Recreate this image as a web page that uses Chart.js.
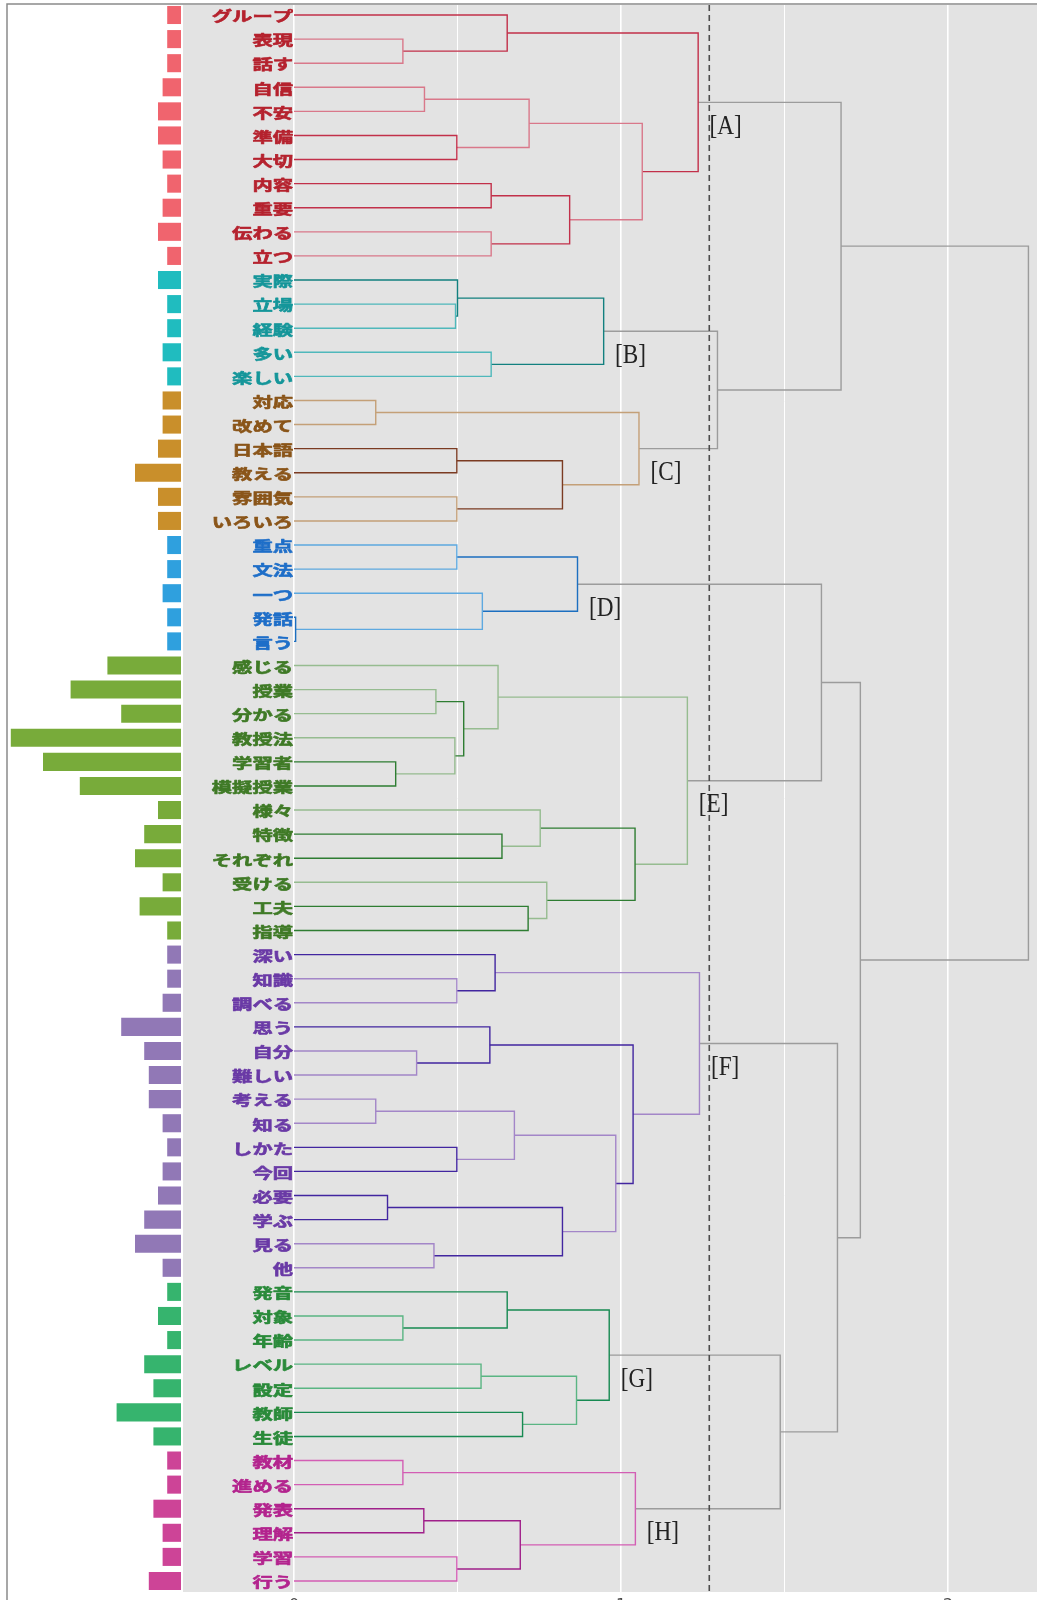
<!DOCTYPE html>
<html lang="ja">
<head>
<meta charset="utf-8">
<script src="https://cdn.jsdelivr.net/npm/chart.js@4/dist/chart.umd.min.js"></script>
<style>
  html, body { margin: 0; padding: 0; background: #fff; overflow: hidden; }
  #wrap { width: 1037px; height: 1616px; }
</style>
</head>
<body>
<div id="wrap"><canvas id="c" width="1037" height="1616"></canvas></div>
<script>
// ---- data -------------------------------------------------------------
// leaf words, top to bottom
const words = [
  'グループ','表現','話す','自信','不安','準備','大切','内容','重要','伝わる','立つ',
  '実際','立場','経験','多い','楽しい',
  '対応','改めて','日本語','教える','雰囲気','いろいろ',
  '重点','文法','一つ','発話','言う',
  '感じる','授業','分かる','教授法','学習者','模擬授業','様々','特徴','それぞれ','受ける','工夫','指導',
  '深い','知識','調べる','思う','自分','難しい','考える','知る','しかた','今回','必要','学ぶ','見る','他',
  '発音','対象','年齢','レベル','設定','教師','生徒',
  '教材','進める','発表','理解','学習','行う'
];

// occurrence counts (bars on the left)
const freq = [
  3,3,3,4,5,5,4,3,4,5,3,
  5,3,3,4,3,
  4,4,5,10,5,5,
  3,3,4,3,3,
  16,24,13,37,30,22,5,8,10,4,9,3,
  3,3,4,13,8,7,7,4,3,4,5,8,10,4,
  3,5,3,8,6,14,6,
  3,3,6,4,4,7
];

// cluster roots
const clusters = ['A','B','C','D','E','F','G','H'];

// merges: [node id, child 1, child 2, height]
const merges = [
  ['a1','表現','話す',0.333], ['a2','グループ','a1',0.652],
  ['a3','自信','不安',0.399], ['a4','準備','大切',0.498], ['a5','a3','a4',0.719],
  ['a6','内容','重要',0.603], ['a7','伝わる','立つ',0.603], ['a8','a6','a7',0.843],
  ['a9','a5','a8',1.065], ['A','a2','a9',1.236],

  ['b1','立場','経験',0.494], ['b2','実際','b1',0.500], ['b3','多い','楽しい',0.603],
  ['B','b2','b3',0.947],

  ['c1','対応','改めて',0.250], ['c2','日本語','教える',0.498], ['c3','雰囲気','いろいろ',0.498],
  ['c4','c2','c3',0.821], ['C','c1','c4',1.055],

  ['d1','重点','文法',0.498], ['d2','発話','言う',0.005], ['d3','一つ','d2',0.576],
  ['D','d1','d3',0.867],

  ['e1','授業','分かる',0.434], ['e2','学習者','模擬授業',0.311], ['e3','教授法','e2',0.492],
  ['e4','e1','e3',0.519], ['e5','感じる','e4',0.624],
  ['e6','特徴','それぞれ',0.636], ['e7','様々','e6',0.753],
  ['e8','工夫','指導',0.716], ['e9','受ける','e8',0.773],
  ['e10','e7','e9',1.043], ['E','e5','e10',1.203],

  ['f1','知識','調べる',0.498], ['f2','深い','f1',0.615],
  ['f3','自分','難しい',0.375], ['f4','思う','f3',0.599],
  ['f5','考える','知る',0.250], ['f6','しかた','今回',0.498], ['f7','f5','f6',0.674],
  ['f8','必要','学ぶ',0.286], ['f9','見る','他',0.428], ['f10','f8','f9',0.821],
  ['f11','f7','f10',0.984], ['f12','f4','f11',1.037], ['F','f2','f12',1.240],

  ['g1','対象','年齢',0.333], ['g2','発音','g1',0.652],
  ['g3','レベル','設定',0.572], ['g4','教師','生徒',0.699], ['g5','g3','g4',0.864],
  ['G','g2','g5',0.964],

  ['h1','教材','進める',0.333], ['h2','発表','理解',0.397], ['h3','学習','行う',0.498],
  ['h4','h2','h3',0.692], ['H','h1','h4',1.044],

  ['BC','B','C',1.295], ['ABC','A','BC',1.673],
  ['DE','D','E',1.613], ['GH','G','H',1.487], ['FGH','F','GH',1.662],
  ['DH','DE','FGH',1.732], ['root','ABC','DH',2.246]
];

// cut height (dashed line)
const cutHeight = 1.27;

// ---- styles -----------------------------------------------------------
const palette = {
  A: { bar: '#f0646e', text: '#b5222e', line: ['#c2304a', '#d9788a'] },
  B: { bar: '#20bcbf', text: '#15969a', line: ['#12807f', '#4fb8bb'] },
  C: { bar: '#c98f2b', text: '#8a5519', line: ['#7b3b22', '#c4a078'] },
  D: { bar: '#2fa0de', text: '#1e6ec8', line: ['#1c6fc0', '#5ea9e0'] },
  E: { bar: '#78ab3a', text: '#3f7a26', line: ['#2e7d32', '#96bc90'] },
  F: { bar: '#9178b6', text: '#6a3aa6', line: ['#4226a0', '#a386c8'] },
  G: { bar: '#36b46e', text: '#2a8a3a', line: ['#178a52', '#5ab583'] },
  H: { bar: '#cd4497', text: '#b3248e', line: ['#a0208a', '#d35eb4'] }
};
const upperColor = '#9c9c9c';

// ---- tree layout --------------------------------------------------------
const pos = {};
words.forEach((w, i) => { pos[w] = { h: 0, y: i }; });
const kids = {};
merges.forEach(([id, a, b, h]) => {
  kids[id] = [a, b];
  pos[id] = { h: h, y: (pos[a].y + pos[b].y) / 2 };
});
const groupOf = {};
clusters.forEach(c => {
  const stack = [c];
  while (stack.length) {
    const n = stack.pop();
    groupOf[n] = c;
    if (kids[n]) stack.push(...kids[n]);
  }
});

const shadeCounter = {};
const linkSets = merges.map(([id, a, b, h]) => {
  const g = groupOf[id];
  let color = upperColor;
  if (g) {
    shadeCounter[g] = (shadeCounter[g] || 0) + 1;
    color = palette[g].line[shadeCounter[g] % 2];
  }
  return {
    type: 'line',
    xAxisID: 'x', yAxisID: 'y',
    data: [
      { x: pos[a].h, y: pos[a].y }, { x: h, y: pos[a].y },
      { x: h, y: pos[b].y }, { x: pos[b].h, y: pos[b].y }
    ],
    borderColor: color,
    borderWidth: 1.4,
    pointRadius: 0,
    fill: false,
    tension: 0
  };
});

const yMin = -0.415, yMax = 65.457;

const cutSet = {
  type: 'line', xAxisID: 'x', yAxisID: 'y',
  data: [{ x: cutHeight, y: yMin }, { x: cutHeight, y: yMax }],
  borderColor: '#4d4d4d', borderWidth: 1.6, borderDash: [6, 4],
  pointRadius: 0, fill: false
};

const barSet = {
  type: 'bar', indexAxis: 'y', xAxisID: 'xb', yAxisID: 'y',
  data: freq.map((v, i) => ({ x: v, y: i })),
  backgroundColor: words.map(w => palette[groupOf[w]].bar),
  borderWidth: 0,
  grouped: false,
  categoryPercentage: 1,
  barPercentage: 0.75
};

// ---- decoration plugins ------------------------------------------------
const panel = {
  id: 'panel',
  beforeDraw(chart) {
    const { ctx, chartArea: a, scales } = chart;
    ctx.save();
    ctx.fillStyle = '#fff';
    ctx.fillRect(0, 0, chart.width, chart.height);
    const left = scales.xb.getPixelForValue(0) + 2;
    ctx.fillStyle = '#e3e3e3';
    ctx.fillRect(left, a.top, a.right - left, a.bottom - a.top);
    ctx.restore();
  },
  afterDraw(chart) {
    const { ctx, scales } = chart;
    const xs = scales.x, ys = scales.y;
    ctx.save();
    // frame
    ctx.strokeStyle = '#8a8a8a';
    ctx.lineWidth = 1.5;
    ctx.beginPath();
    ctx.moveTo(7, chart.height); ctx.lineTo(7, 4); ctx.lineTo(chart.width, 4);
    ctx.stroke();

    // leaf labels (heavy weight: fill plus a thin stroke)
    ctx.font = 'bold 14px "Noto Sans CJK JP", "Noto Sans CJK SC", sans-serif';
    ctx.textAlign = 'right';
    ctx.textBaseline = 'middle';
    ctx.lineJoin = 'round';
    const x0 = xs.getPixelForValue(0) - 1;
    words.forEach((w, i) => {
      const col = palette[groupOf[w]].text;
      ctx.save();
      ctx.translate(x0, ys.getPixelForValue(i) + 1);
      ctx.scale(1.45, 1);
      ctx.fillStyle = col;
      ctx.strokeStyle = col;
      ctx.lineWidth = 0.6;
      ctx.fillText(w, 0, 0);
      ctx.strokeText(w, 0, 0);
      ctx.restore();
    });

    // cluster labels
    ctx.font = '27px "Liberation Serif", "DejaVu Serif", serif';
    ctx.textAlign = 'left';
    ctx.fillStyle = '#222';
    clusters.forEach(c => {
      const p = pos[c];
      ctx.save();
      ctx.translate(xs.getPixelForValue(p.h + 0.035), ys.getPixelForValue(p.y + 1.0));
      ctx.scale(0.86, 1.05);
      ctx.fillText('[' + c + ']', 0, 0);
      ctx.restore();
    });
    ctx.restore();
  }
};

new Chart(document.getElementById('c'), {
  type: 'scatter',
  data: { datasets: [cutSet, ...linkSets, barSet] },
  options: {
    responsive: false,
    animation: false,
    devicePixelRatio: 1,
    layout: { padding: { left: 8, top: 5, right: 0, bottom: 0 } },
    plugins: { legend: { display: false }, tooltip: { enabled: false } },
    scales: {
      x: {
        type: 'linear', position: 'bottom', offset: false,
        min: -0.8746, max: 2.2722,
        afterFit: s => { s.height = 24; },
        border: { display: false },
        grid: {
          offset: false,
          drawTicks: false,
          color: c => (c.tick && c.tick.value >= 0 ? '#ffffff' : 'rgba(0,0,0,0)'),
          lineWidth: c => (c.tick && Number.isInteger(c.tick.value) ? 1.6 : 1.0)
        },
        ticks: {
          stepSize: 0.5, includeBounds: false, autoSkip: false, maxRotation: 0,
          padding: 4, color: '#4d4d4d',
          font: { size: 16, family: '"DejaVu Sans", sans-serif' },
          callback: v => (Number.isInteger(v) && v >= 0 ? String(v) : '')
        }
      },
      xb: {
        type: 'linear', axis: 'x', position: 'bottom', display: false, offset: false,
        reverse: true, min: -186.09, max: 37.61
      },
      y: {
        type: 'linear', display: false, reverse: true, offset: false,
        grid: { offset: false },
        min: yMin, max: yMax
      }
    }
  },
  plugins: [panel]
});
</script>
</body>
</html>
